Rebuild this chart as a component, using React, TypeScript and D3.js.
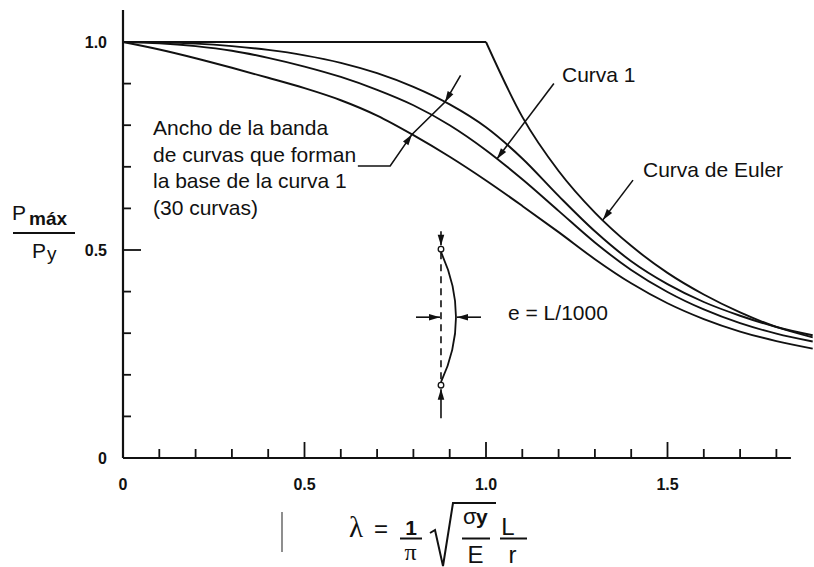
import React from "react";
import * as d3 from "d3";

// Slenderness values at which the column-strength curves are tabulated
const lambdaGrid = [0, 0.1, 0.2, 0.3, 0.4, 0.5, 0.6, 0.7, 0.8, 0.9, 1.0, 1.1, 1.2, 1.3, 1.4, 1.5, 1.6, 1.7, 1.8, 1.9];

// Upper bound of the band of 30 curves
const bandUpper = [1.0, 0.999, 0.996, 0.99, 0.981, 0.968, 0.95, 0.925, 0.892, 0.85, 0.795, 0.72, 0.63, 0.545, 0.473, 0.418, 0.375, 0.342, 0.315, 0.295];
// Curva 1 (mean curve of the band)
const curve1 = [1.0, 0.997, 0.99, 0.979, 0.962, 0.941, 0.916, 0.885, 0.848, 0.8, 0.74, 0.67, 0.594, 0.518, 0.452, 0.399, 0.357, 0.324, 0.299, 0.28];
// Lower bound of the band
const bandLower = [1.0, 0.982, 0.961, 0.938, 0.914, 0.889, 0.86, 0.823, 0.776, 0.724, 0.667, 0.606, 0.543, 0.478, 0.42, 0.372, 0.334, 0.304, 0.281, 0.263];

// Euler curve: plateau up to lambda = 1, then the elastic branch
const eulerPlateau = [0, 1.0];
const eulerLambda = [1.0, 1.1, 1.2, 1.3, 1.4, 1.5, 1.6, 1.7, 1.8, 1.9];
const eulerValues = [1.0, 0.82, 0.69, 0.59, 0.51, 0.445, 0.393, 0.35, 0.315, 0.29];

// Axis ticks
const xMajorTicks = [0.5, 1.0, 1.5];
const xMinorTicks = [0.1, 0.2, 0.3, 0.4, 0.6, 0.7, 0.8, 0.9, 1.1, 1.2, 1.3, 1.4, 1.6, 1.7, 1.8];
const xTickValues = [0, 0.5, 1.0, 1.5];
const xTickLabels = ["0", "0.5", "1.0", "1.5"];
const yMajorTicks = [0.5, 1.0];
const yMinorTicks = [0.1, 0.2, 0.3, 0.4, 0.6, 0.7, 0.8, 0.9];
const yTickValues = [0, 0.5, 1.0];
const yTickLabels = ["0", "0.5", "1.0"];

const W = 814;
const H = 567;
const FONT = "'Liberation Sans', Arial, Helvetica, sans-serif";

const x = d3.scaleLinear().domain([0, 1]).range([123, 486]);
const y = d3.scaleLinear().domain([0, 1]).range([458, 42]);

type Pt = [number, number];

function valueAt(values: number[], l: number, grid: number[] = lambdaGrid): number {
  const i = Math.max(0, Math.min(grid.length - 2, d3.bisectRight(grid, l) - 1));
  const t = (l - grid[i]) / (grid[i + 1] - grid[i]);
  return values[i] + t * (values[i + 1] - values[i]);
}

function arrowHead(tip: Pt, from: Pt, len = 11, half = 3.3): string {
  const dx = tip[0] - from[0];
  const dy = tip[1] - from[1];
  const d = Math.hypot(dx, dy);
  const ux = dx / d;
  const uy = dy / d;
  const bx = tip[0] - ux * len;
  const by = tip[1] - uy * len;
  const p1 = [bx - uy * half, by + ux * half];
  const p2 = [bx + uy * half, by - ux * half];
  return `${tip[0]},${tip[1]} ${p1[0]},${p1[1]} ${p2[0]},${p2[1]}`;
}

const line = d3
  .line<number>()
  .x((_, i) => x(lambdaGrid[i]))
  .y((d) => y(d))
  .curve(d3.curveMonotoneX);

const eulerLine = d3
  .line<number>()
  .x((_, i) => x(eulerLambda[i]))
  .y((d) => y(d))
  .curve(d3.curveMonotoneX);

const P = (l: number, v: number): Pt => [x(l), y(v)];

export default function App() {
  const xEnd = 1.84;
  const yTop = 1.077;

  // Leader for the band width
  const bandLowTipL = 0.796;
  const bandTopTipL = 0.887;
  const lowTip = P(bandLowTipL, valueAt(bandLower, bandLowTipL));
  const topTip = P(bandTopTipL, valueAt(bandUpper, bandTopTipL));
  const bandStart = P(0.647, 0.702);
  const bandKnee = P(0.736, 0.702);
  const bandEnd = P(0.93, 0.92);

  // Leader for Curva 1
  const c1Tip = P(1.03, valueAt(curve1, 1.03));
  const c1From = P(1.187, 0.9);

  // Leader for Euler curve
  const eTipL = 1.322;
  const eTip = P(eTipL, valueAt(eulerValues, eTipL, eulerLambda));
  const eFrom = P(1.405, 0.668);

  // Column sketch
  const cx = x(0.876);
  const cTop = y(0.502);
  const cBot = y(0.175);
  const cMid = (cTop + cBot) / 2;
  const bulge = 15;
  const columnPath = `M${cx},${cTop + 3} Q${cx + bulge * 2},${cMid} ${cx},${cBot - 3}`;
  const midBulgeX = cx + bulge;

  const stroke = "#111";

  return (
    <svg
      width={W}
      height={H}
      viewBox={`0 0 ${W} ${H}`}
      style={{ position: "absolute", left: 0, top: 0, background: "#fff" }}
    >
      <rect width={W} height={H} fill="#fff" />

      {/* Axes */}
      <line x1={x(0)} y1={y(0)} x2={x(xEnd)} y2={y(0)} stroke={stroke} strokeWidth={2.2} />
      <line x1={x(0)} y1={y(0)} x2={x(0)} y2={y(yTop)} stroke={stroke} strokeWidth={2.2} />

      {xMinorTicks.map((t) => (
        <line key={"xm" + t} x1={x(t)} x2={x(t)} y1={y(0)} y2={y(0) - 9} stroke={stroke} strokeWidth={1.8} />
      ))}
      {xMajorTicks.map((t) => (
        <line key={"xM" + t} x1={x(t)} x2={x(t)} y1={y(0)} y2={y(0) - 16} stroke={stroke} strokeWidth={1.8} />
      ))}
      {yMinorTicks.map((t) => (
        <line key={"ym" + t} x1={x(0)} x2={x(0) + 8} y1={y(t)} y2={y(t)} stroke={stroke} strokeWidth={1.8} />
      ))}
      {yMajorTicks.map((t) => (
        <line key={"yM" + t} x1={x(0)} x2={x(0) + 18} y1={y(t)} y2={y(t)} stroke={stroke} strokeWidth={1.8} />
      ))}

      {xTickValues.map((t, i) => (
        <text
          key={"xl" + t}
          x={x(t)}
          y={490}
          textAnchor="middle"
          fontFamily={FONT}
          fontWeight="bold"
          fontSize={16}
          fill={stroke}
        >
          {xTickLabels[i]}
        </text>
      ))}
      {yTickValues.map((t, i) => (
        <text
          key={"yl" + t}
          x={107}
          y={y(t) + 6}
          textAnchor="end"
          fontFamily={FONT}
          fontWeight="bold"
          fontSize={16}
          fill={stroke}
        >
          {yTickLabels[i]}
        </text>
      ))}

      {/* Curves */}
      <line
        x1={x(eulerPlateau[0])}
        y1={y(1)}
        x2={x(eulerPlateau[1])}
        y2={y(1)}
        stroke={stroke}
        strokeWidth={1.9}
      />
      <path d={eulerLine(eulerValues) || ""} fill="none" stroke={stroke} strokeWidth={1.9} />
      <path d={line(bandUpper) || ""} fill="none" stroke={stroke} strokeWidth={1.9} />
      <path d={line(curve1) || ""} fill="none" stroke={stroke} strokeWidth={1.9} />
      <path d={line(bandLower) || ""} fill="none" stroke={stroke} strokeWidth={1.9} />

      {/* Band width annotation */}
      <polyline
        points={`${bandStart} ${bandKnee} ${lowTip} ${topTip} ${bandEnd}`}
        fill="none"
        stroke={stroke}
        strokeWidth={1.6}
      />
      <polygon points={arrowHead(lowTip, bandKnee)} fill={stroke} />
      <polygon points={arrowHead(topTip, bandEnd)} fill={stroke} />
      <text fontFamily={FONT} fontSize={21} fill={stroke}>
        <tspan x={153} y={135}>Ancho de la banda</tspan>
        <tspan x={153} y={161.5}>de curvas que forman</tspan>
        <tspan x={153} y={188}>la base de la curva 1</tspan>
        <tspan x={153} y={214.5}>(30 curvas)</tspan>
      </text>

      {/* Curva 1 annotation */}
      <line x1={c1From[0]} y1={c1From[1]} x2={c1Tip[0]} y2={c1Tip[1]} stroke={stroke} strokeWidth={1.6} />
      <polygon points={arrowHead(c1Tip, c1From)} fill={stroke} />
      <text x={562} y={82} fontFamily={FONT} fontSize={21} fill={stroke}>
        Curva 1
      </text>

      {/* Euler annotation */}
      <line x1={eFrom[0]} y1={eFrom[1]} x2={eTip[0]} y2={eTip[1]} stroke={stroke} strokeWidth={1.6} />
      <polygon points={arrowHead(eTip, eFrom)} fill={stroke} />
      <text x={643} y={177} fontFamily={FONT} fontSize={21} fill={stroke}>
        Curva de Euler
      </text>

      {/* Column sketch with initial crookedness */}
      <line
        x1={cx}
        y1={cTop + 3}
        x2={cx}
        y2={cBot - 3}
        stroke={stroke}
        strokeWidth={1.6}
        strokeDasharray="7 5"
      />
      <path d={columnPath} fill="none" stroke={stroke} strokeWidth={1.8} />
      <circle cx={cx} cy={cTop} r={2.8} fill="#fff" stroke={stroke} strokeWidth={1.3} />
      <circle cx={cx} cy={cBot} r={2.8} fill="#fff" stroke={stroke} strokeWidth={1.3} />
      <line x1={cx} y1={cTop - 18} x2={cx} y2={cTop - 4} stroke={stroke} strokeWidth={1.6} />
      <polygon points={arrowHead([cx, cTop - 3.5], [cx, cTop - 18])} fill={stroke} />
      <line x1={cx} y1={cBot + 33} x2={cx} y2={cBot + 4} stroke={stroke} strokeWidth={1.6} />
      <polygon points={arrowHead([cx, cBot + 3.5], [cx, cBot + 33])} fill={stroke} />
      <line x1={cx - 25} y1={cMid} x2={cx - 1} y2={cMid} stroke={stroke} strokeWidth={1.6} />
      <polygon points={arrowHead([cx - 1, cMid], [cx - 25, cMid])} fill={stroke} />
      <line x1={midBulgeX + 25} y1={cMid} x2={midBulgeX + 1} y2={cMid} stroke={stroke} strokeWidth={1.6} />
      <polygon points={arrowHead([midBulgeX + 1, cMid], [midBulgeX + 25, cMid])} fill={stroke} />
      <text x={508} y={cMid + 3} fontFamily={FONT} fontSize={21} fill={stroke}>
        e = L/1000
      </text>

      {/* Y axis title: Pmáx / Py */}
      <text fontFamily={FONT} fill={stroke}>
        <tspan x={12} y={220} fontSize={21}>P</tspan>
        <tspan x={29} y={225} fontSize={19} fontWeight="bold">máx</tspan>
      </text>
      <line x1={13} y1={233} x2={75} y2={233} stroke={stroke} strokeWidth={2} />
      <text fontFamily={FONT} fill={stroke}>
        <tspan x={32} y={258} fontSize={21}>P</tspan>
        <tspan x={47} y={260} fontSize={19}>y</tspan>
      </text>

      {/* X axis title: lambda = (1/pi) sqrt(sigma_y / E) (L / r) */}
      <g fontFamily={FONT} fill={stroke}>
        <text x={356} y={537} fontSize={29} textAnchor="middle" fontFamily="'Liberation Serif', 'DejaVu Serif', serif">λ</text>
        <text x={381} y={537} fontSize={24} textAnchor="middle">=</text>
        <text x={411} y={535} fontSize={21} fontWeight="bold" textAnchor="middle">1</text>
        <line x1={400} y1={538.5} x2={422} y2={538.5} stroke={stroke} strokeWidth={2} />
        <text x={410.5} y={560} fontSize={24} textAnchor="middle" fontFamily="'Liberation Serif', 'DejaVu Serif', serif">π</text>
        <polyline
          points="430,533 435,530 443,566 453,503 496,503"
          fill="none"
          stroke={stroke}
          strokeWidth={2}
        />
        <text x={463} y={524} fontSize={22}>σ</text>
        <text x={476} y={524} fontSize={21} fontWeight="bold">y</text>
        <line x1={462} y1={538.5} x2={490} y2={538.5} stroke={stroke} strokeWidth={2} />
        <text x={475.5} y={563} fontSize={24} textAnchor="middle">E</text>
        <text x={508} y={535} fontSize={24} textAnchor="middle">L</text>
        <line x1={500} y1={538.5} x2={527} y2={538.5} stroke={stroke} strokeWidth={2} />
        <text x={512.5} y={563} fontSize={24} textAnchor="middle">r</text>
      </g>

      {/* Faint vertical stroke left of the axis title */}
      <line x1={282} y1={512} x2={282} y2={552} stroke="#444" strokeWidth={1.2} />
    </svg>
  );
}
